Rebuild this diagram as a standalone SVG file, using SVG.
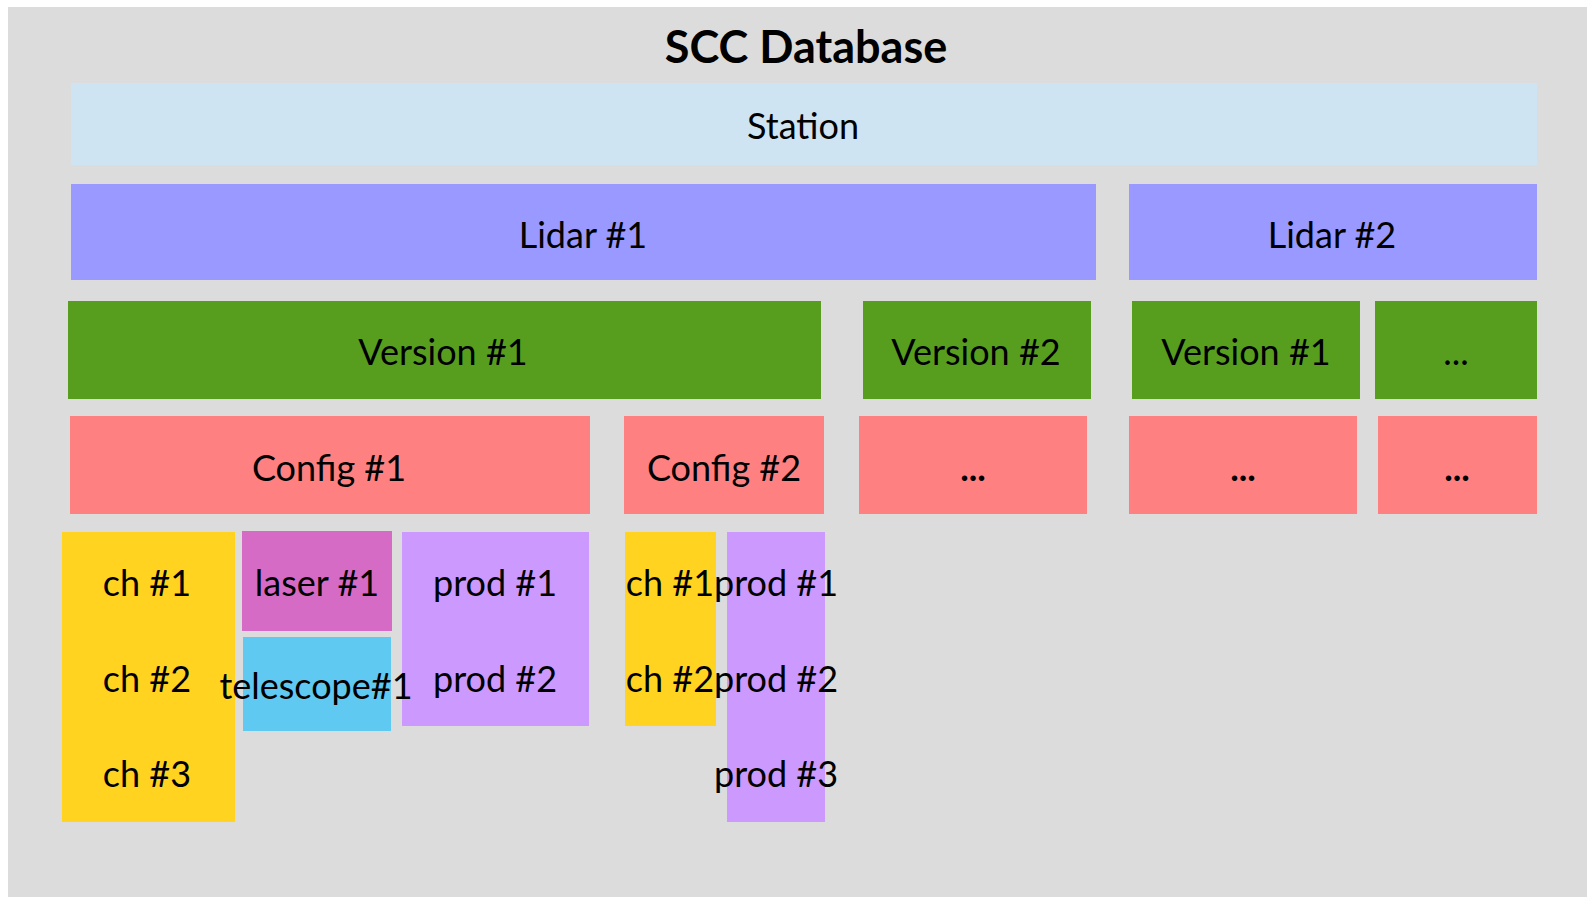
<svg xmlns="http://www.w3.org/2000/svg" width="1587" height="897" viewBox="0 0 1587 897">
<style>
text{font-family:Lato,"Open Sans","Liberation Sans",sans-serif;font-size:36px;fill:#000;text-anchor:middle}
.title{font-weight:bold;font-size:45px}
.station{fill:#CFE4F2}
.lidar{fill:#9999FF}
.version{fill:#589E1E}
.config{fill:#FF8080}
.ch{fill:#FFD320}
.laser{fill:#D66BC6}
.tele{fill:#5FC9F2}
.prod{fill:#CC99FF}
.dots{font-weight:bold}
</style>
<rect x="0" y="0" width="1587" height="897" fill="#FFFFFF"/>
<rect id="background" x="8" y="7" width="1579" height="890" fill="#DCDCDC"/>
<text class="title" x="806" y="63">SCC Database</text>
<g id="station"><rect class="station" x="71" y="83" width="1466" height="82"/><text x="803" y="139">Station</text></g>
<g id="lidar1"><rect class="lidar" x="71" y="184" width="1025" height="96"/><text x="583" y="248">Lidar #1</text></g>
<g id="lidar2"><rect class="lidar" x="1129" y="184" width="408" height="96"/><text x="1332" y="248">Lidar #2</text></g>
<g id="l1-version1"><rect class="version" x="68" y="301" width="753" height="98"/><text x="443" y="365">Version #1</text></g>
<g id="l1-version2"><rect class="version" x="863" y="301" width="228" height="98"/><text x="976" y="365">Version #2</text></g>
<g id="l2-version1"><rect class="version" x="1132" y="301" width="228" height="98"/><text x="1246" y="365">Version #1</text></g>
<g id="l2-versionN"><rect class="version" x="1375" y="301" width="162" height="98"/><text x="1456" y="365">...</text></g>
<g id="config1"><rect class="config" x="70" y="416" width="520" height="98"/><text x="329" y="481">Config #1</text></g>
<g id="config2"><rect class="config" x="624" y="416" width="200" height="98"/><text x="724" y="481">Config #2</text></g>
<g id="l1v2-configN"><rect class="config" x="859" y="416" width="228" height="98"/><text class="dots" x="973" y="481">...</text></g>
<g id="l2v1-configN"><rect class="config" x="1129" y="416" width="228" height="98"/><text class="dots" x="1243" y="481">...</text></g>
<g id="l2vN-configN"><rect class="config" x="1378" y="416" width="159" height="98"/><text class="dots" x="1457" y="481">...</text></g>
<g id="c1-channels"><rect class="ch" x="62" y="532" width="173" height="290"/><text x="147" y="596">ch #1</text><text x="147" y="692">ch #2</text><text x="147" y="787">ch #3</text></g>
<g id="c1-laser"><rect class="laser" x="242" y="531" width="150" height="100"/><text x="317" y="596">laser #1</text></g>
<g id="c1-products"><rect class="prod" x="402" y="532" width="187" height="194"/><text x="495" y="596">prod #1</text><text x="495" y="692">prod #2</text></g>
<g id="c1-telescope"><rect class="tele" x="243" y="637" width="148" height="94"/><text x="316" y="699">telescope#1</text></g>
<g id="c2-channels"><rect class="ch" x="625" y="532" width="91" height="194"/><text x="670" y="596">ch #1</text><text x="670" y="692">ch #2</text></g>
<g id="c2-products"><rect class="prod" x="727" y="532" width="98" height="290"/><text x="776" y="596">prod #1</text><text x="776" y="692">prod #2</text><text x="776" y="787">prod #3</text></g>
<g id="connectors"></g>
</svg>
